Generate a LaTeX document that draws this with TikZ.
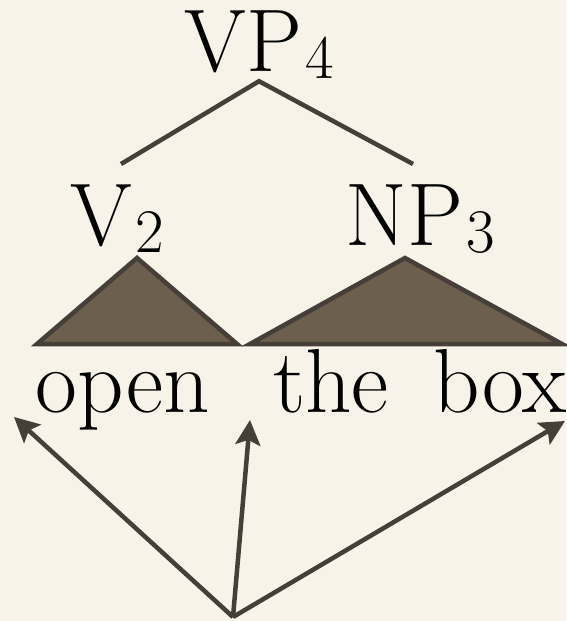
\documentclass[tikz,border=0pt]{standalone}
\usetikzlibrary{arrows.meta}
\definecolor{paper}{HTML}{F7F3E8}
\definecolor{ink}{HTML}{463E39}
\definecolor{bark}{HTML}{6D5F4E}
\newcommand\subdig[1]{\kern3pt\raisebox{-7pt}{\fontsize{62}{62}\selectfont #1}}
\begin{document}
\begin{tikzpicture}[x=1pt,y=-1pt,
    lbl/.style={inner sep=0pt,anchor=base,font=\fontsize{89}{94}\selectfont},
    branch/.style={draw=ink,line width=4.5pt},
    roof/.style={draw=ink,fill=bark,line width=4.5pt,line join=miter},
    pointer/.style={draw=ink,line width=4.5pt,-{Stealth[length=25pt,width=25pt,inset=5pt]}}]
      \fill[paper] (0,0) rectangle (566,621);
      \useasboundingbox (0,0) rectangle (566,621);
      % labels
      \node[lbl] (vp) at (259,71) {VP\subdig{4}};
      \node[lbl] (v) at (117,245) {V\subdig{2}};
      \node[lbl] (np) at (420,245) {NP\subdig{3}};
      \node[lbl,font=\fontsize{91}{96}\selectfont] (open) at (123,412) {open};
      \node[lbl,font=\fontsize{91}{96}\selectfont] (the) at (331,412) {the};
      \node[lbl,font=\fontsize{91}{96}\selectfont] (box) at (500,412) {box};
      % branches
      \coordinate (vp-foot) at ([yshift=-3pt]vp.south);
      \coordinate (v-top) at ([xshift=4pt,yshift=20pt]v.north);
      \coordinate (np-top) at ([xshift=-7pt,yshift=20pt]np.north);
      \draw[branch] (v-top) -- (vp-foot) -- (np-top);
      % roofs
      \draw[roof] (137,258) -- (237,344) -- (37,344) -- cycle;
      \draw[roof] (405,258) -- (562,344) -- (250,344) -- cycle;
      % pointers
      \coordinate (root) at (233,617);
      \coordinate (open-tip) at (14,417);
      \coordinate (gap-tip) at (250,420);
      \coordinate (box-tip) at (565,421);
      \foreach \tip in {open-tip,gap-tip,box-tip}
        \draw[pointer] (root) -- (\tip);
    \end{tikzpicture}
\end{document}
